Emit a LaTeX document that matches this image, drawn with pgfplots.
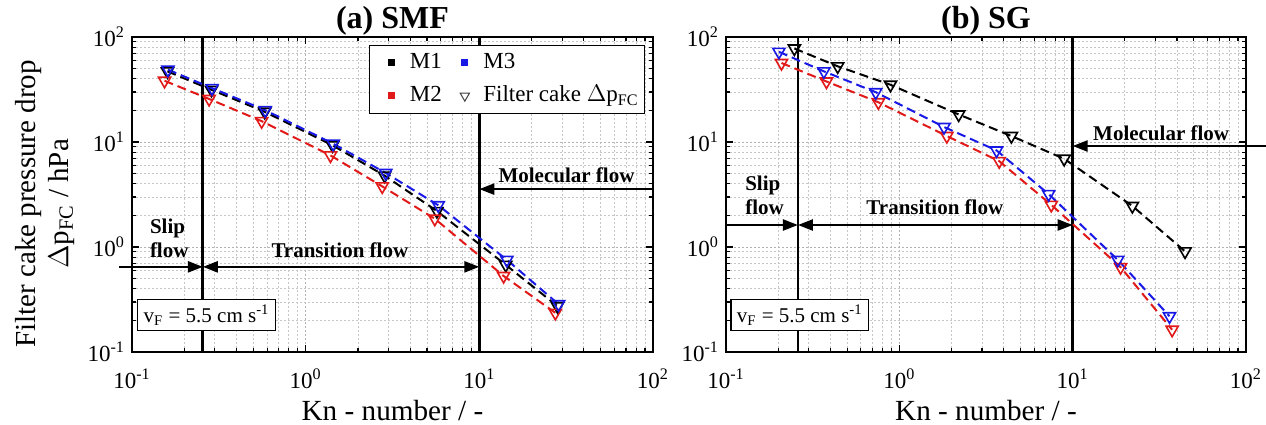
\documentclass[border=0pt]{standalone}
\usepackage{fontspec}
\setmainfont{Liberation Serif}
\usepackage{pgfplots}
\pgfplotsset{compat=1.18}
\usetikzlibrary{arrows.meta}

\definecolor{mred}{RGB}{225,25,25}
\definecolor{mblue}{RGB}{25,25,230}

\pgfplotsset{
  ser/.style={#1, line width=1pt, dash pattern=on 4.5pt off 2.5pt, mark=triangle, mark size=3.5pt,
    mark options={rotate=180, solid, line width=0.8pt}},
  vline/.style={black, line width=1.4pt, forget plot},
}
\tikzset{annot/.style={font=\bfseries\fontsize{10.5}{12}\selectfont},
  myarr/.style={line width=1.2pt},
  vfbox/.style={draw=black, line width=0.7pt, fill=white, font=\fontsize{10.5}{12}\selectfont, anchor=south west, inner xsep=3pt, inner ysep=2.5pt}}

\begin{document}
\begin{tikzpicture}
\path[use as bounding box] (0,0) rectangle (633pt,212pt);

% ---------------- (a) SMF ----------------
\begin{axis}[xmode=log, ymode=log, scale only axis, height=157.5pt, width=260.5pt,
    at={(66pt,36pt)}, anchor=south west,
    xmin=0.1, xmax=100, ymin=0.1, ymax=100,
    clip=false,
    xtick={0.1,1,10,100},
    xticklabels={10\textsuperscript{-1},10\textsuperscript{0},10\textsuperscript{1},10\textsuperscript{2}},
    ytick={0.1,1,10,100},
    yticklabels={10\textsuperscript{-1},10\textsuperscript{0},10\textsuperscript{1},10\textsuperscript{2}},
    minor xtick={0.2,0.3,0.4,0.5,0.6,0.7,0.8,0.9,2,3,4,5,6,7,8,9,20,30,40,50,60,70,80,90},
    minor ytick={0.2,0.3,0.4,0.5,0.6,0.7,0.8,0.9,2,3,4,5,6,7,8,9,20,30,40,50,60,70,80,90},
    xmajorgrids, ymajorgrids, xminorgrids, yminorgrids,
    major grid style={gray!60, dash pattern=on 1pt off 1pt, line width=0.4pt},
    minor grid style={gray!45, dash pattern=on 1pt off 1pt, line width=0.4pt},
    tick align=inside,
    major tick length=3.5pt, minor tick length=2pt,
    tick style={black, line width=0.6pt},
    axis line style={line width=0.75pt},
    tick label style={font=\fontsize{11.5}{13}\selectfont},
    xticklabel style={anchor=base, yshift=-18pt},
    xlabel={Kn - number / -},
    xlabel style={font=\fontsize{14.6}{17}\selectfont, at={(axis description cs:0.5,0)}, anchor=base, yshift=-34pt},
    title style={font=\bfseries\fontsize{16}{18}\selectfont, at={(axis description cs:0.5,1)}, anchor=base, yshift=-1.5pt},
    title={(a) SMF},
    ylabel={Filter cake pressure drop\\$\Delta$p\textsubscript{FC} / hPa},
    ylabel style={font=\fontsize{14.5}{16.5}\selectfont, align=center, at={(axis description cs:-0.167,0.47)}, anchor=center},
    legend columns=2, legend cell align=left,
    legend style={at={(axis description cs:0.985,0.975)}, anchor=north east,
      draw=black, line width=0.6pt, fill=white, inner xsep=3pt, inner ysep=3pt,
      font=\fontsize{11.5}{13.5}\selectfont,
      nodes={inner sep=0pt, text height=8.5pt, text depth=3pt},
      row sep=5pt,
      /tikz/every odd column/.append style={column sep=5.25pt},
      /tikz/every even column/.append style={column sep=7.5pt}},
]
\addplot[vline] coordinates {(0.256,0.1) (0.256,100)};
\addplot[vline] coordinates {(10,0.1) (10,100)};

\addplot[ser=black, forget plot] coordinates {(0.160,47.1) (0.287,31.4) (0.581,19.4) (1.43,9.29) (2.85,4.78) (5.70,2.20) (14.2,0.676) (28.2,0.273)};
\addplot[ser=mred, forget plot] coordinates {(0.154,38.3) (0.278,25.7) (0.558,15.8) (1.39,7.45) (2.76,3.78) (5.54,1.86) (13.8,0.530) (27.4,0.236)};
\addplot[ser=mblue, forget plot] coordinates {(0.161,48.9) (0.289,32.6) (0.585,20.1) (1.44,9.64) (2.89,5.07) (5.80,2.50) (14.4,0.755) (28.6,0.285)};

\addlegendimage{legend image code/.code={\path[use as bounding box, draw=none] (-8pt,-3pt) rectangle (4pt,3pt); \fill[draw=none, black] (-1.75pt,-1.75pt) rectangle (1.75pt,1.75pt);}}
\addlegendentry{M1}
\addlegendimage{legend image code/.code={\path[use as bounding box, draw=none] (-4pt,-3pt) rectangle (4pt,3pt); \fill[draw=none, mblue] (-1.75pt,-1.75pt) rectangle (1.75pt,1.75pt);}}
\addlegendentry{M3}
\addlegendimage{legend image code/.code={\path[use as bounding box, draw=none] (-8pt,-3pt) rectangle (4pt,3pt); \fill[draw=none, mred] (-1.75pt,-1.75pt) rectangle (1.75pt,1.75pt);}}
\addlegendentry{M2}
\addlegendimage{legend image code/.code={\path[use as bounding box, draw=none] (-4pt,-3pt) rectangle (4pt,3pt); \draw[black!75, line width=0.5pt] (-2.3pt,1.4pt) -- (2.3pt,1.4pt) -- (0pt,-2.6pt) -- cycle;}}
\addlegendentry{Filter cake $\Delta$p\textsubscript{FC}}

\draw[myarr, -{Triangle[length=7.5pt,width=5.5pt]}] (axis cs:0.084,0.647) -- (axis cs:0.256,0.647);
\draw[myarr, {Triangle[length=7.5pt,width=5.5pt]}-{Triangle[length=7.5pt,width=5.5pt]}] (axis cs:0.256,0.647) -- (axis cs:10,0.647);
\draw[myarr, -{Triangle[length=7.5pt,width=5.5pt]}] (axis cs:102,3.56) -- (axis cs:10,3.56);

\node[annot, anchor=base west] at (axis description cs:0.021,0.377) {Slip};
\node[annot, anchor=base west] at (axis description cs:0.021,0.299) {flow};
\node[annot, anchor=base] at (axis description cs:0.399,0.299) {Transition flow};
\node[annot, anchor=base east] at (axis description cs:0.978,0.538) {Molecular flow};

\node[vfbox] at (axis description cs:0.0096,0.066) {v\textsubscript{F} = 5.5 cm s\textsuperscript{-1}};
\end{axis}

% ---------------- (b) SG ----------------
\begin{axis}[xmode=log, ymode=log, scale only axis, height=157.5pt, width=260pt,
    at={(363pt,36pt)}, anchor=south west,
    xmin=0.1, xmax=100, ymin=0.1, ymax=100,
    clip=false,
    xtick={0.1,1,10,100},
    xticklabels={10\textsuperscript{-1},10\textsuperscript{0},10\textsuperscript{1},10\textsuperscript{2}},
    ytick={0.1,1,10,100},
    yticklabels={10\textsuperscript{-1},10\textsuperscript{0},10\textsuperscript{1},10\textsuperscript{2}},
    minor xtick={0.2,0.3,0.4,0.5,0.6,0.7,0.8,0.9,2,3,4,5,6,7,8,9,20,30,40,50,60,70,80,90},
    minor ytick={0.2,0.3,0.4,0.5,0.6,0.7,0.8,0.9,2,3,4,5,6,7,8,9,20,30,40,50,60,70,80,90},
    xmajorgrids, ymajorgrids, xminorgrids, yminorgrids,
    major grid style={gray!60, dash pattern=on 1pt off 1pt, line width=0.4pt},
    minor grid style={gray!45, dash pattern=on 1pt off 1pt, line width=0.4pt},
    tick align=inside,
    major tick length=3.5pt, minor tick length=2pt,
    tick style={black, line width=0.6pt},
    axis line style={line width=0.75pt},
    tick label style={font=\fontsize{11.5}{13}\selectfont},
    xticklabel style={anchor=base, yshift=-18pt},
    xlabel={Kn - number / -},
    xlabel style={font=\fontsize{14.6}{17}\selectfont, at={(axis description cs:0.5,0)}, anchor=base, yshift=-34pt},
    title style={font=\bfseries\fontsize{16}{18}\selectfont, at={(axis description cs:0.5,1)}, anchor=base, yshift=-1.5pt},
    title={(b) SG},
]
\addplot[vline] coordinates {(0.26,0.1) (0.26,100)};
\addplot[vline] coordinates {(10,0.1) (10,100)};

\addplot[ser=black] coordinates {(0.248,77.8) (0.441,52.6) (0.889,35.1) (2.20,18.3) (4.43,11.4) (8.93,6.92) (22.1,2.46) (44.5,0.908)};
\addplot[ser=mred] coordinates {(0.209,56.6) (0.380,37.7) (0.757,23.9) (1.88,11.4) (3.77,6.57) (7.53,2.52) (18.9,0.643) (37.5,0.163)};
\addplot[ser=mblue] coordinates {(0.202,72.3) (0.367,47.1) (0.731,29.8) (1.81,13.9) (3.64,8.31) (7.27,3.19) (18.2,0.755) (36.2,0.219)};

\draw[myarr, -{Triangle[length=7.5pt,width=5.5pt]}] (axis cs:0.1,1.62) -- (axis cs:0.26,1.62);
\draw[myarr, {Triangle[length=7.5pt,width=5.5pt]}-{Triangle[length=7.5pt,width=5.5pt]}] (axis cs:0.26,1.62) -- (axis cs:10,1.62);
\draw[myarr, -{Triangle[length=7.5pt,width=5.5pt]}] (axis cs:130,9.16) -- (axis cs:10,9.16);

\node[annot, anchor=base west] at (axis description cs:0.0235,0.512) {Slip};
\node[annot, anchor=base west] at (axis description cs:0.0235,0.437) {flow};
\node[annot, anchor=base] at (axis description cs:0.4016,0.437) {Transition flow};
\node[annot, anchor=base east] at (axis description cs:0.981,0.672) {Molecular flow};

\node[vfbox] at (axis description cs:0.008,0.066) {v\textsubscript{F} = 5.5 cm s\textsuperscript{-1}};
\end{axis}
\end{tikzpicture}
\end{document}
